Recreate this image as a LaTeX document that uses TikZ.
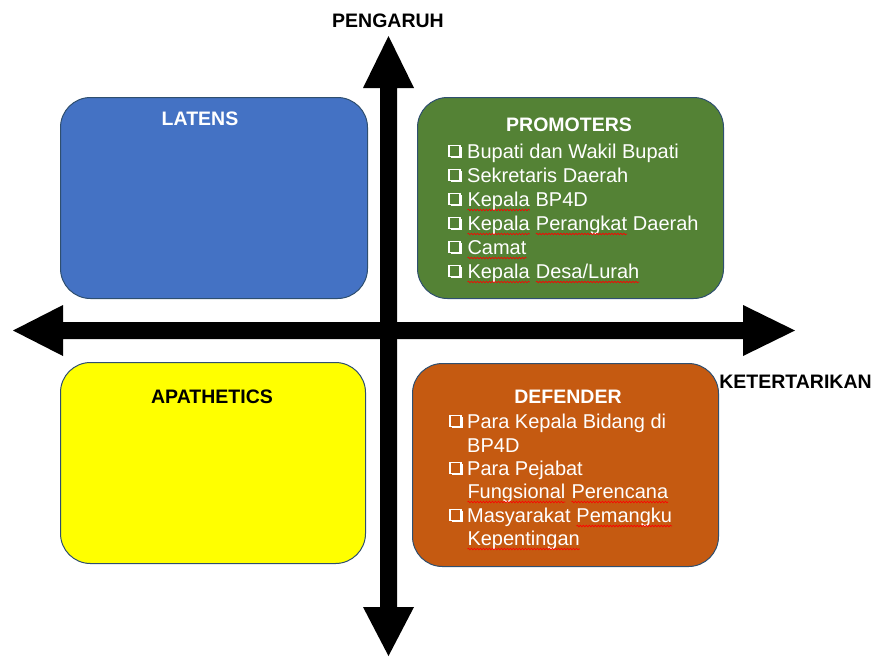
\documentclass[tikz,border=0pt]{standalone}
\usepackage{fontspec}
\setmainfont{Liberation Sans}
\usetikzlibrary{decorations.pathmorphing}
\definecolor{cblue}{HTML}{4472C4}
\definecolor{cgreen}{HTML}{548235}
\definecolor{cyellow}{HTML}{FFFF00}
\definecolor{corange}{HTML}{C55A11}
\definecolor{cedge}{HTML}{2F4F6F}
\tikzset{
  quad/.style={draw=cedge, line width=1pt, rounded corners=30pt, inner sep=0pt, anchor=north west},
  head/.style={font=\fontsize{19.5}{23}\selectfont\bfseries, inner sep=0pt, anchor=base},
  item/.style={font=\fontsize{20}{24}\selectfont, text=white, inner sep=0pt, anchor=base west},
  wavy/.style={draw=red, line width=0.6pt, decorate, decoration={snake, amplitude=0.8pt, segment length=3pt}},
  chk/.pic={
    \draw[white, line width=1.5pt] (0.75,0.75) rectangle (11.8,11.8);
    \fill[white] (2.5,11.8) rectangle (13.8,13.8);
    \fill[white] (11.8,2.5) rectangle (13.8,13.8);
  }
}
\newcommand\spl[1]{\tikz[baseline=(sw.base)]{\node[inner sep=0pt,outer sep=0pt](sw){#1};\draw[wavy] ([yshift=-4pt]sw.base west)--([yshift=-4pt]sw.base east);}}
\begin{document}
\begin{tikzpicture}[x=1pt,y=-1pt]
\useasboundingbox (0,0) rectangle (875,657);
% quadrant boxes
\node[quad, fill=cblue, minimum width=307pt, minimum height=201pt] (latens) at (60,97) {};
\node[quad, fill=cgreen, minimum width=306pt, minimum height=201pt] (promoters) at (417,97) {};
\node[quad, fill=cyellow, minimum width=305pt, minimum height=201pt] (apathetics) at (60,362) {};
\node[quad, fill=corange, minimum width=306pt, minimum height=203pt] (defender) at (412,363) {};
% axes
\fill[black] (388.5,36) -- (414,88) -- (397,88) -- (397,607) -- (414,607) -- (388.5,656)
  -- (363,607) -- (380,607) -- (380,88) -- (363,88) -- cycle;
\fill[black] (13,330.5) -- (63,305) -- (63,322) -- (743,322) -- (743,305) -- (795,330.5)
  -- (743,356) -- (743,339) -- (63,339) -- (63,356) -- cycle;
% axis labels
\node[head] (pengaruh) at (388,27) {PENGARUH};
\node[head] (ketertarikan) at (795.5,388) {KETERTARIKAN};
% headings
\node[head, text=white] (tlatens) at (200,125) {LATENS};
\node[head, text=white] (tpromoters) at (569,131) {PROMOTERS};
\node[head] (tapathetics) at (212,403) {APATHETICS};
\node[head, text=white] (tdefender) at (568,403) {DEFENDER};
% promoters list
\foreach \b in {158,182,206,230,254,278} { \pic at (448,\b-13.5) {chk}; }
\node[item] (p1) at (467,158) {Bupati dan Wakil Bupati};
\node[item] (p2) at (467,182) {Sekretaris Daerah};
\node[item] (p3) at (467,206) {\spl{Kepala} BP4D};
\node[item] (p4) at (467,230) {\spl{Kepala} \spl{Perangkat} Daerah};
\node[item] (p5) at (467,254) {\spl{Camat}};
\node[item] (p6) at (467,278) {\spl{Kepala} \spl{Desa/Lurah}};
% defender list
\foreach \b in {428,475,522} { \pic at (449,\b-13.5) {chk}; }
\node[item] (d1) at (467,428) {Para Kepala Bidang di};
\node[item] (d2) at (467,452) {BP4D};
\node[item] (d3) at (467,475) {Para Pejabat};
\node[item] (d4) at (467,498) {\spl{Fungsional} \spl{Perencana}};
\node[item] (d5) at (467,522) {Masyarakat \spl{Pemangku}};
\node[item] (d6) at (467,545) {\spl{Kepentingan}};
\end{tikzpicture}
\end{document}
